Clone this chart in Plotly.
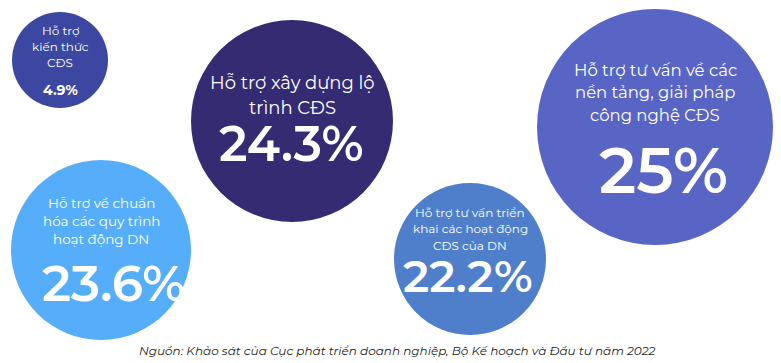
import plotly.graph_objects as go

# ---- data ----
categories = [
    ["Hỗ trợ", "kiến thức", "CĐS"],
    ["Hỗ trợ xây dựng lộ", "trình CĐS"],
    ["Hỗ trợ tư vấn về các", "nền tảng, giải pháp", "công nghệ CĐS"],
    ["Hỗ trợ về chuẩn", "hóa các quy trình", "hoạt động DN"],
    ["Hỗ trợ tư vấn triển", "khai các hoạt động", "CĐS của DN"],
]
values = [4.9, 24.3, 25, 23.6, 22.2]
source = "Nguồn: Khảo sát của Cục phát triển doanh nghiệp, Bộ Kế hoạch và Đầu tư năm 2022"

# ---- layout (positions / sizes / styles) ----
W, H = 781, 363
cx = [60, 292, 655, 101, 470]
cy = [60, 121, 127, 250, 259]
diam = [96, 202, 236, 180, 152]
colors = ["#3B47A0", "#352B72", "#5865C4", "#56AEFA", "#4F7FCB"]
label_y = [[30, 46, 62], [83, 108], [70, 92, 115], [203, 221, 239], [212, 228, 245]]
label_size = [12, 18, 16.5, 13.5, 12]
pct_y = [90, 143, 170, 283, 275]
pct_size = [14, 49, 64, 50, 45]
pct_x_off = [0, -1, 8, 12, -2]

FONT = "Montserrat, DejaVu Sans, sans-serif"

fig = go.Figure()
fig.add_trace(go.Scatter(
    x=cx, y=cy, mode="markers",
    marker=dict(size=diam, color=colors, opacity=1, line=dict(width=0)),
    hoverinfo="skip", showlegend=False, cliponaxis=False,
))

def fmt(v):
    return (f"{v:g}") + "%"

ann = []
for i, lines in enumerate(categories):
    for j, line in enumerate(lines):
        ann.append(dict(x=cx[i], y=label_y[i][j], xref="x", yref="y", text=line,
                        showarrow=False, xanchor="center", yanchor="middle",
                        font=dict(family=FONT, size=label_size[i], color="white")))
    ann.append(dict(x=cx[i] + pct_x_off[i], y=pct_y[i], xref="x", yref="y", text=fmt(values[i]),
                    showarrow=False, xanchor="center", yanchor="middle",
                    font=dict(family=FONT, size=pct_size[i], color="white",
                              weight=(700 if i == 0 else 600))))
ann.append(dict(x=397, y=350, xref="x", yref="y", text=source, showarrow=False,
                xanchor="center", yanchor="middle",
                font=dict(family=FONT, size=12, color="#222222", style="italic")))

fig.update_layout(
    width=W, height=H, autosize=False,
    margin=dict(l=0, r=0, t=0, b=0),
    paper_bgcolor="white", plot_bgcolor="white",
    xaxis=dict(range=[0, W], visible=False, fixedrange=True),
    yaxis=dict(range=[H, 0], visible=False, fixedrange=True),
    annotations=ann,
)
fig.write_html("out.html", config={"displayModeBar": False},
               post_script="document.body.style.margin='0';document.body.style.padding='0';")
